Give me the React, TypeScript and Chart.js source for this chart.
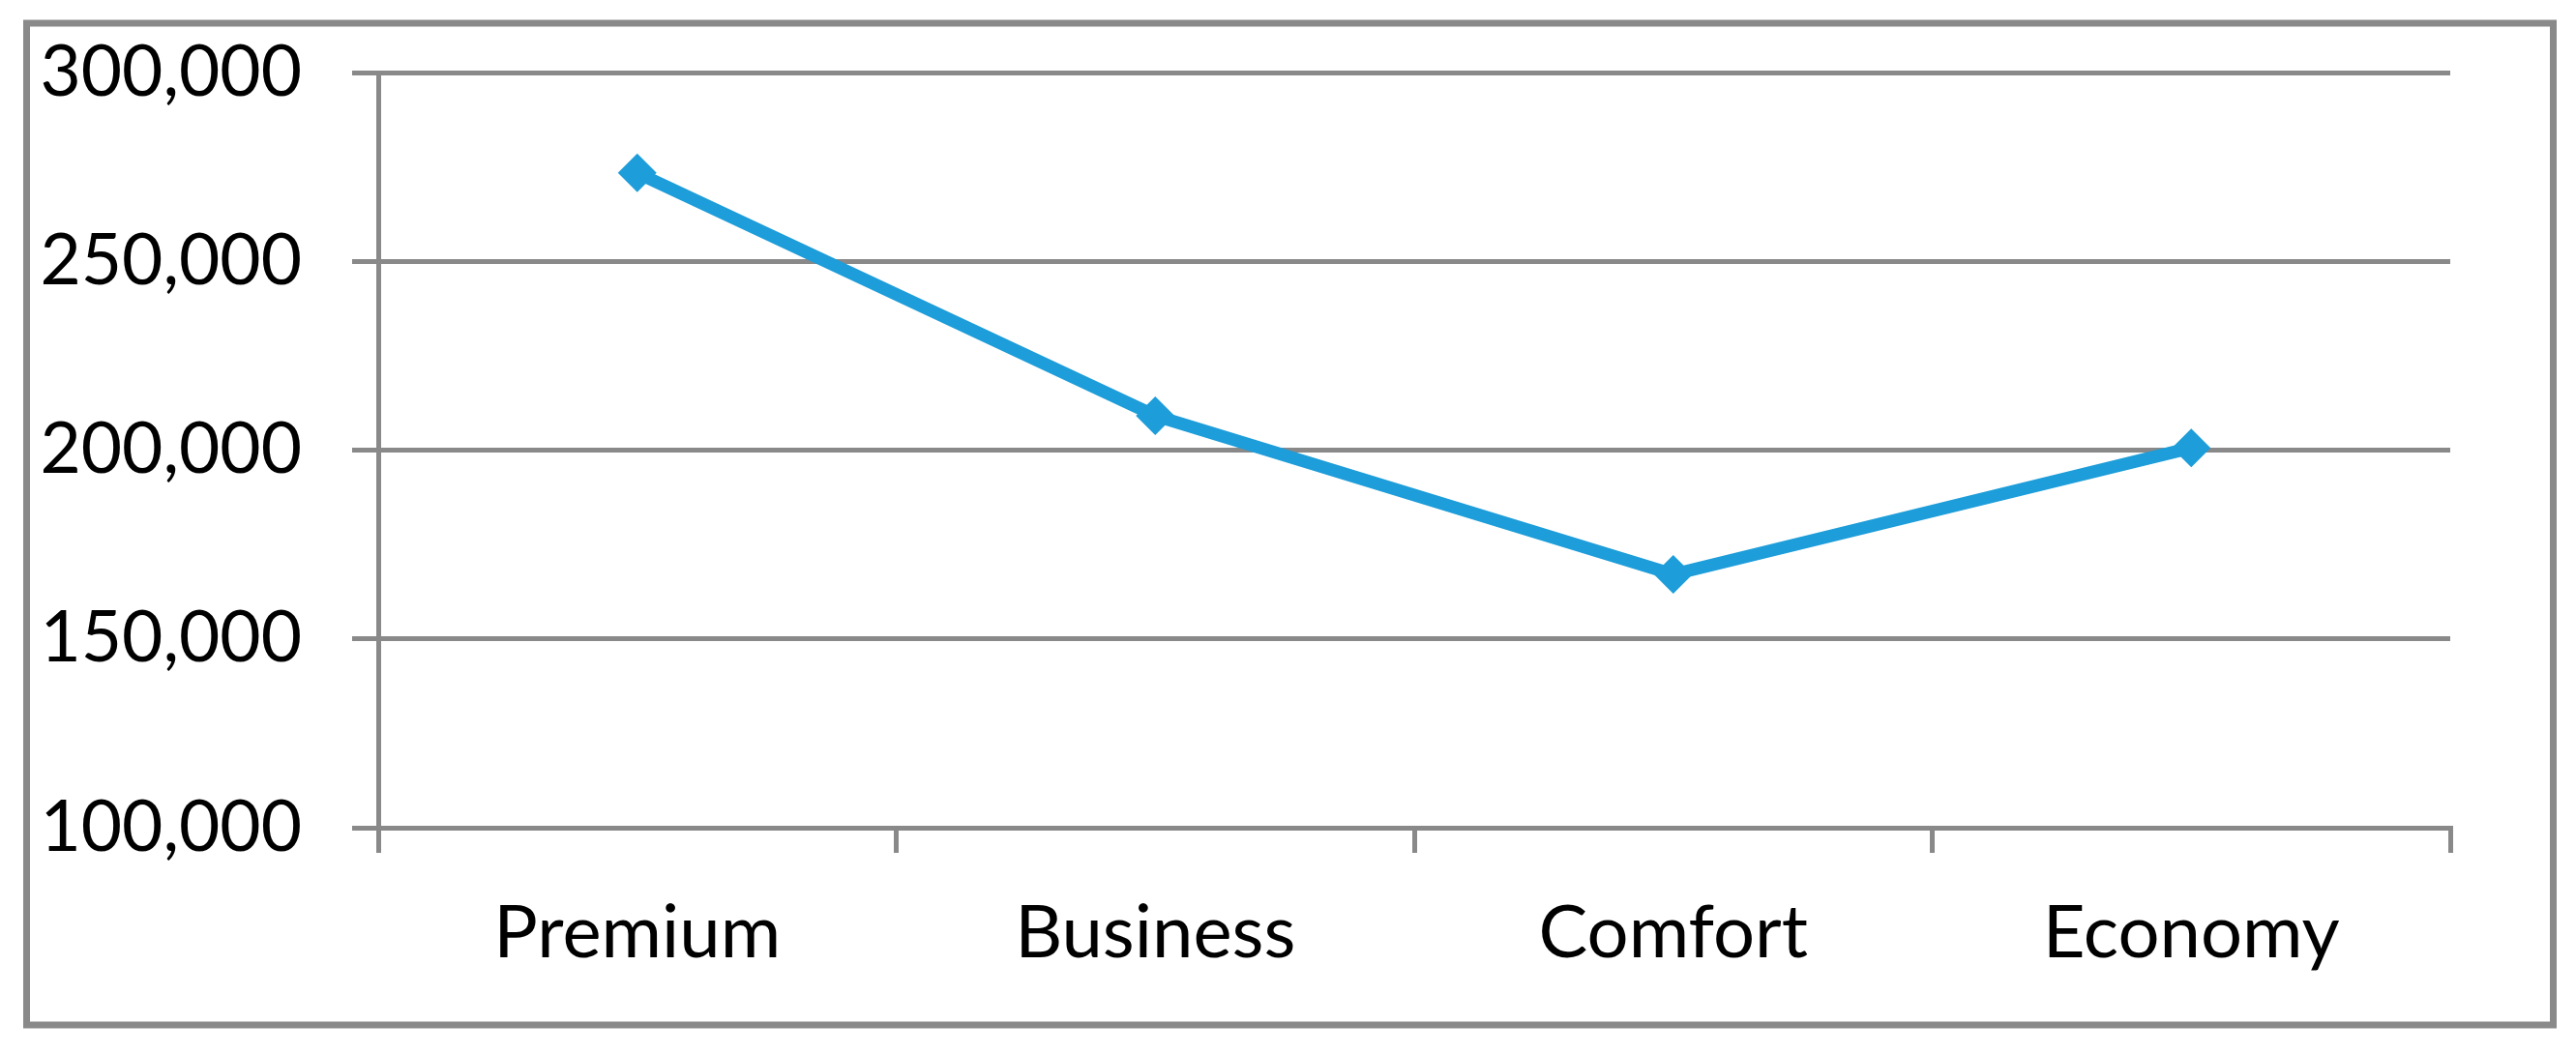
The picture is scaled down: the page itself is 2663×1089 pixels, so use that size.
import React, { useEffect, useRef } from "react";
import { Chart, registerables } from "chart.js";

Chart.register(...registerables);

const categories = ["Premium", "Business", "Comfort", "Economy"];
const values = [273400, 209100, 167100, 200600];
const yTicks = [100000, 150000, 200000, 250000, 300000];

const W = 2663;
const H = 1089;
const GRID = "#898989";
const LINE = "#1d9dd9";
const FONT = "Lato, 'Open Sans', sans-serif";

const frame = {
  id: "frame",
  beforeDraw(chart: any) {
    const ctx = chart.ctx;
    ctx.save();
    ctx.fillStyle = "#ffffff";
    ctx.fillRect(0, 0, chart.width, chart.height);
    ctx.strokeStyle = GRID;
    ctx.lineWidth = 7;
    ctx.strokeRect(27.5, 24, 2612, 1036);
    ctx.restore();
  },
};

export default function App() {
  const ref = useRef<HTMLCanvasElement>(null);
  useEffect(() => {
    if (!ref.current) return;
    const chart = new Chart(ref.current, {
      type: "line",
      data: {
        labels: categories,
        datasets: [
          {
            data: values,
            borderColor: LINE,
            backgroundColor: LINE,
            borderWidth: 13,
            tension: 0,
            pointStyle: "rectRot",
            pointRadius: 20,
            pointBorderWidth: 0,
            pointBackgroundColor: LINE,
            pointBorderColor: LINE,
          },
        ],
      },
      plugins: [frame],
      options: {
        animation: false,
        responsive: false,
        devicePixelRatio: 1,
        layout: { padding: { left: 0, top: 75, right: 130, bottom: 0 } },
        plugins: { legend: { display: false }, tooltip: { enabled: false } },
        scales: {
          x: {
            type: "category",
            offset: true,
            afterFit: (s: any) => {
              s.height = 233;
              s.paddingLeft = 0;
              s.paddingRight = 0;
            },
            grid: {
              offset: true,
              drawOnChartArea: false,
              drawTicks: true,
              tickLength: 26,
              color: GRID,
              lineWidth: 5,
            },
            border: { display: true, color: GRID, width: 5 },
            ticks: {
              color: "#000000",
              font: { family: FONT, size: 76 },
              padding: 38,
              maxRotation: 0,
            },
          },
          y: {
            min: 100000,
            max: 300000,
            afterFit: (s: any) => {
              s.width = 391;
              s.paddingTop = 0;
              s.paddingBottom = 0;
            },
            afterBuildTicks: (s: any) => {
              s.ticks = yTicks.map((v) => ({ value: v }));
            },
            grid: {
              drawTicks: true,
              tickLength: 27,
              color: GRID,
              lineWidth: 5,
            },
            border: { display: true, color: GRID, width: 5 },
            ticks: {
              color: "#000000",
              font: { family: FONT, size: 73 },
              padding: 52,
              callback: (v: any) => Number(v).toLocaleString("en-US"),
            },
          },
        },
      },
    });
    return () => chart.destroy();
  }, []);
  return (
    <div style={{ position: "fixed", left: 0, top: 0, width: W, height: H, background: "#fff" }}>
      <canvas ref={ref} width={W} height={H} style={{ width: W, height: H, display: "block" }} />
    </div>
  );
}
